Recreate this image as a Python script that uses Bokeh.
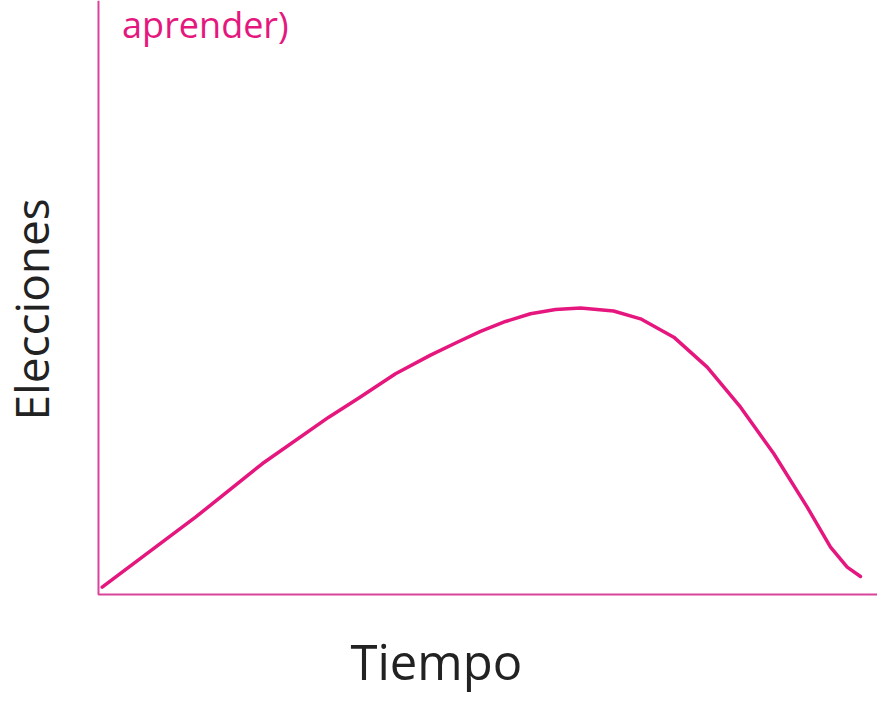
import math
from bokeh.plotting import figure
from bokeh.models import Range1d, Label
from bokeh.embed import file_html
from bokeh.resources import INLINE

# Data (arbitrary units, axes span 0-100)
tiempo = [0.47, 12.33, 20.80, 29.26, 33.08, 37.74, 42.19, 45.58, 48.54, 51.72,
          54.89, 58.07, 61.25, 65.44, 68.87, 73.10, 77.34, 81.58, 85.81, 90.05,
          93.01, 95.13, 96.82]
elecciones = [1.23, 13.01, 22.00, 29.85, 33.08, 37.15, 40.30, 42.47, 44.28, 45.96,
              47.26, 47.98, 48.23, 47.73, 46.41, 43.32, 38.27, 31.53, 23.69, 14.70,
              7.96, 4.60, 3.03]

# axis extents (data units)
axis_x = [0, 0, 101]
axis_y = [100, 0, 0]

x_label = "Tiempo"
y_label = "Elecciones"
note_text = "aprender)"

PINK = "#e5177e"
AXIS_PINK = "#d8449a"
DARK = "#222222"

p = figure(width=877, height=694, output_backend="svg", toolbar_location=None,
           x_range=Range1d(-12.45, 98.98), y_range=Range1d(-16.84, 100),
           min_border=0)
p.axis.visible = False
p.grid.visible = False
p.outline_line_color = None
p.background_fill_color = "white"
p.border_fill_color = "white"

# axes drawn as lines in data space
p.line(axis_x, axis_y, line_color=AXIS_PINK, line_width=2)

# the curve
p.line(tiempo, elecciones, line_color=PINK, line_width=3.5, line_join="round",
       line_cap="round")

p.add_layout(Label(x=42.92, y=-11.28, text=x_label, text_align="center",
                   text_baseline="alphabetic", text_font="Open Sans",
                   text_font_size="49px", text_color=DARK))
p.add_layout(Label(x=-8.61, y=48.0, text=y_label, angle=math.pi / 2,
                   text_align="center", text_baseline="alphabetic",
                   text_font="Open Sans", text_font_size="46px", text_color=DARK))
p.add_layout(Label(x=3.0, y=95.88, text=note_text, text_align="left",
                   text_baseline="alphabetic", text_font="Open Sans",
                   text_font_size="36px", text_color=PINK))

open("out.html", "w").write(file_html(p, INLINE))
